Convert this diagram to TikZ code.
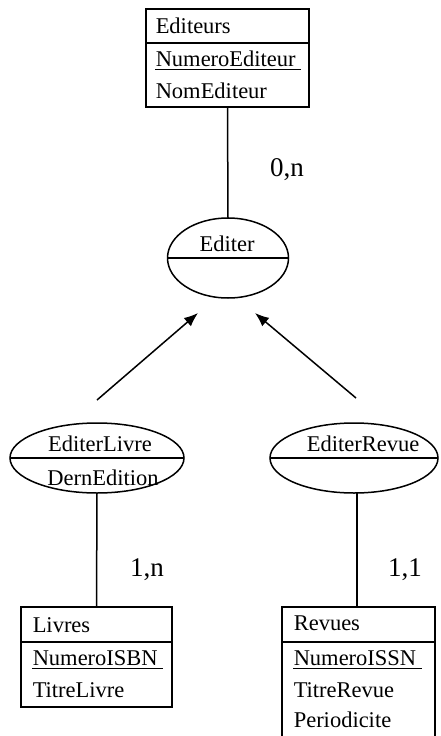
\documentclass[tikz,border=0pt]{standalone}
\usepackage{fontspec}
\setmainfont{Liberation Serif}
\usetikzlibrary{shapes.geometric,arrows.meta,calc}
\begin{document}
\begin{tikzpicture}[x=1pt,y=-1pt, line width=1.5pt,
  ent/.style={draw, rectangle, inner sep=0pt, outer sep=0pt},
  rel/.style={draw, ellipse, inner sep=0pt, outer sep=0pt},
  txt/.style={anchor=base west, inner sep=0pt, font=\fontsize{22.5}{27}\selectfont},
  ctxt/.style={anchor=base, inner sep=0pt, font=\fontsize{22.5}{27}\selectfont},
  card/.style={inner sep=0pt, font=\fontsize{27}{32}\selectfont},
  uline/.style={line width=1.2pt},
  arr/.style={-{Latex[length=14pt,width=11pt]}}]
\useasboundingbox (0,0) rectangle (440,736);

% Editeurs entity
\node[ent, minimum width=163pt, minimum height=98pt] (editeurs) at (227.5,58) {};
\draw ($(editeurs.north west)+(0,34)$) -- ($(editeurs.north east)+(0,34)$);
\node[txt] (edT) at (155,33) {Editeurs};
\node[txt] (edK) at (155,66) {NumeroEditeur};
\node[txt] (edA) at (155,98) {NomEditeur};
\draw[uline] ($(edK.base west)+(0,3.5)$) -- ($(edK.base east)+(5,3.5)$);

% Editer relation
\node[rel, minimum width=121pt, minimum height=80pt] (editer) at (228,258) {};
\draw (editer.west) -- (editer.east);
\node[ctxt] (editerT) at (227,251) {Editer};

\draw (editeurs.south) -- (editer.north);
\node[card] (c0n) at (287,170) {0,n};

% EditerLivre relation
\node[rel, minimum width=174pt, minimum height=70pt] (edlivre) at (97,458) {};
\draw (edlivre.west) -- (edlivre.east);
\node[ctxt] (edlivreT) at (100,451) {EditerLivre};
\node[ctxt] (edlivreA) at (103,485) {DernEdition};

% EditerRevue relation
\node[rel, minimum width=168pt, minimum height=70pt] (edrevue) at (354,458) {};
\draw (edrevue.west) -- (edrevue.east);
\node[ctxt] (edrevueT) at (363,451) {EditerRevue};

% Inheritance arrows
\coordinate (a1s) at (97,400);
\coordinate (a1e) at (198,313);
\coordinate (a2s) at (356,398);
\coordinate (a2e) at (255,313);
\draw[arr] (a1s) -- (a1e);
\draw[arr] (a2s) -- (a2e);

% Livres entity
\node[ent, minimum width=151pt, minimum height=100pt] (livres) at (96.5,657) {};
\draw ($(livres.north west)+(0,35)$) -- ($(livres.north east)+(0,35)$);
\node[txt] (liT) at (32,632) {Livres};
\node[txt] (liK) at (32,665) {NumeroISBN};
\node[txt] (liA) at (32,697) {TitreLivre};
\draw[uline] ($(liK.base west)+(0,3.5)$) -- ($(liK.base east)+(5,3.5)$);

\draw (edlivre.south) -- (livres.north);
\node[card] (c1n) at (147,570) {1,n};

% Revues entity
\node[ent, minimum width=153pt, minimum height=136pt] (revues) at (358.5,675) {};
\draw ($(revues.north west)+(0,35)$) -- ($(revues.north east)+(0,35)$);
\node[txt] (reT) at (293,630) {Revues};
\node[txt] (reK) at (293,665) {NumeroISSN};
\node[txt] (reA) at (293,697) {TitreRevue};
\node[txt] (reB) at (293,727) {Periodicite};
\draw[uline] ($(reK.base west)+(0,3.5)$) -- ($(reK.base east)+(5,3.5)$);

\coordinate (rlink) at ($(edrevue.south)+(3,0)$);
\draw (rlink) -- (rlink |- revues.north);
\node[card] (c11) at (405,570) {1,1};
\end{tikzpicture}
\end{document}
